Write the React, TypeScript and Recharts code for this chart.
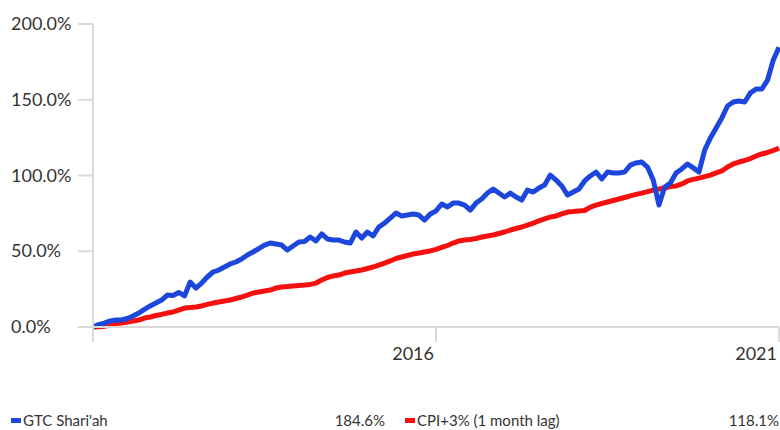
import React from "react";
import { LineChart, Line, XAxis, YAxis } from "recharts";

// monthly cumulative return, % (index 0..120, 2016 at 60, 2021 at 120)
const gtc = [
  0.0, 1.6, 2.6, 4.0, 4.6, 4.6, 5.6, 7.3, 9.2, 11.6,
  13.9, 15.8, 17.8, 21.1, 20.8, 22.8, 20.5, 29.7, 25.7, 29.0,
  33.0, 36.3, 37.6, 39.6, 41.6, 42.9, 44.9, 47.5, 49.5, 51.8,
  54.1, 55.4, 54.8, 54.1, 50.8, 53.5, 56.1, 56.4, 59.4, 56.8,
  61.4, 58.1, 57.4, 57.4, 56.1, 55.4, 62.7, 58.7, 62.7, 60.1,
  66.0, 68.6, 71.9, 75.2, 73.3, 73.9, 74.6, 73.9, 70.6, 74.6,
  76.6, 81.2, 79.2, 81.8, 81.8, 80.5, 77.2, 81.8, 84.5, 88.4,
  91.1, 88.4, 85.8, 88.4, 85.8, 83.8, 90.4, 89.1, 91.7, 93.7,
  100.3, 97.0, 93.1, 87.1, 89.1, 91.1, 96.4, 99.7, 102.3, 97.7,
  102.3, 101.7, 101.7, 102.3, 106.9, 108.3, 108.9, 105.6, 97.0, 80.5,
  92.4, 95.0, 101.7, 104.3, 107.6, 105.0, 102.3, 116.8, 124.8, 131.4,
  138.0, 145.9, 148.5, 149.2, 148.5, 154.5, 157.1, 157.1, 163.0, 176.2,
  184.6,
];

const cpi = [
  0.0, 0.2, 0.5, 1.3, 2.3, 2.6, 3.3, 4.0, 4.6, 5.9,
  6.6, 7.6, 8.3, 9.2, 9.9, 11.2, 12.5, 12.9, 13.2, 13.9,
  14.9, 15.8, 16.5, 17.2, 17.8, 18.8, 19.8, 21.1, 22.4, 23.1,
  23.8, 24.4, 25.7, 26.4, 26.7, 27.1, 27.4, 27.7, 28.1, 29.0,
  31.0, 32.7, 33.7, 34.3, 35.6, 36.3, 37.0, 37.6, 38.6, 39.6,
  40.9, 42.2, 43.6, 45.2, 46.2, 47.2, 48.2, 48.8, 49.5, 50.2,
  51.2, 52.5, 53.8, 55.4, 56.8, 57.4, 57.8, 58.4, 59.4, 60.1,
  60.7, 61.7, 62.7, 64.0, 65.0, 66.0, 67.3, 68.6, 70.0, 71.3,
  72.6, 73.3, 74.6, 75.9, 76.2, 76.6, 76.9, 79.2, 80.5, 81.5,
  82.5, 83.5, 84.5, 85.5, 86.5, 87.5, 88.4, 89.4, 90.4, 91.1,
  91.7, 92.7, 93.1, 94.4, 96.4, 97.4, 98.3, 99.3, 100.3, 101.7,
  103.0, 105.6, 107.6, 108.9, 109.9, 111.2, 112.9, 114.2, 115.2, 116.5,
  118.1,
];

const xTicks = [0, 60, 120];
const xTickLabels: Record<number, string> = { 0: "", 60: "2016", 120: "2021" };
const yTicks = [0, 50, 100, 150, 200];

const seriesNames = ["GTC Shari'ah", "CPI+3% (1 month lag)"];
const BLUE = "#1c46dc";
const RED = "#f5100e";
const FONT = "Lato, 'Noto Sans', sans-serif";

const data = gtc.map((v, i) => ({ i, gtc: v, cpi: cpi[i] }));

function YTick({ y, payload }: any) {
  return (
    <text x={11} y={y} dy={6} textAnchor="start" fill="#333" fontSize={18} fontFamily={FONT}>
      {payload.value.toFixed(1)}%
    </text>
  );
}

function XTick({ x, y, payload }: any) {
  return (
    <text x={x - 2} y={y + 16} textAnchor="end" fill="#333" fontSize={18} fontFamily={FONT}>
      {xTickLabels[payload.value]}
    </text>
  );
}

export default function App() {
  const last = (arr: number[]) => arr[arr.length - 1].toFixed(1) + "%";
  return (
    <div style={{ position: "absolute", left: 0, top: 0, width: 780, height: 430, background: "#fff", fontFamily: FONT }}>
      <LineChart width={780} height={380} data={data} margin={{ top: 24, right: 1, left: 0, bottom: 20 }}>
        <XAxis dataKey="i" type="number" domain={[0, 120]} ticks={xTicks} interval={0} height={33}
          tickSize={15} tick={<XTick />} axisLine={{ stroke: "#d9d9d9", strokeWidth: 2 }}
          tickLine={{ stroke: "#d9d9d9", strokeWidth: 2 }} />
        <YAxis domain={[0, 200]} ticks={yTicks} interval={0} width={93} tickSize={15} tick={<YTick />}
          axisLine={{ stroke: "#d9d9d9", strokeWidth: 2 }} tickLine={{ stroke: "#d9d9d9", strokeWidth: 2 }} />
        <Line dataKey="cpi" stroke={RED} strokeWidth={5} dot={false} type="linear" isAnimationActive={false} strokeLinejoin="round" />
        <Line dataKey="gtc" stroke={BLUE} strokeWidth={5} dot={false} type="linear" isAnimationActive={false} strokeLinejoin="round" />
      </LineChart>
      <div style={{ position: "absolute", top: 411, left: 0, width: 780, display: "flex", fontSize: 15, color: "#333", lineHeight: "18px" }}>
        <div style={{ width: 385, display: "flex", alignItems: "center", paddingLeft: 11, boxSizing: "border-box" }}>
          <span style={{ width: 10, height: 5, background: BLUE, marginRight: 2 }} />
          <span>{seriesNames[0]}</span>
          <span style={{ marginLeft: "auto" }}>{last(gtc)}</span>
        </div>
        <div style={{ width: 394, display: "flex", alignItems: "center", paddingLeft: 20, boxSizing: "border-box" }}>
          <span style={{ width: 10, height: 5, background: RED, marginRight: 2 }} />
          <span>{seriesNames[1]}</span>
          <span style={{ marginLeft: "auto" }}>{last(cpi)}</span>
        </div>
      </div>
    </div>
  );
}
